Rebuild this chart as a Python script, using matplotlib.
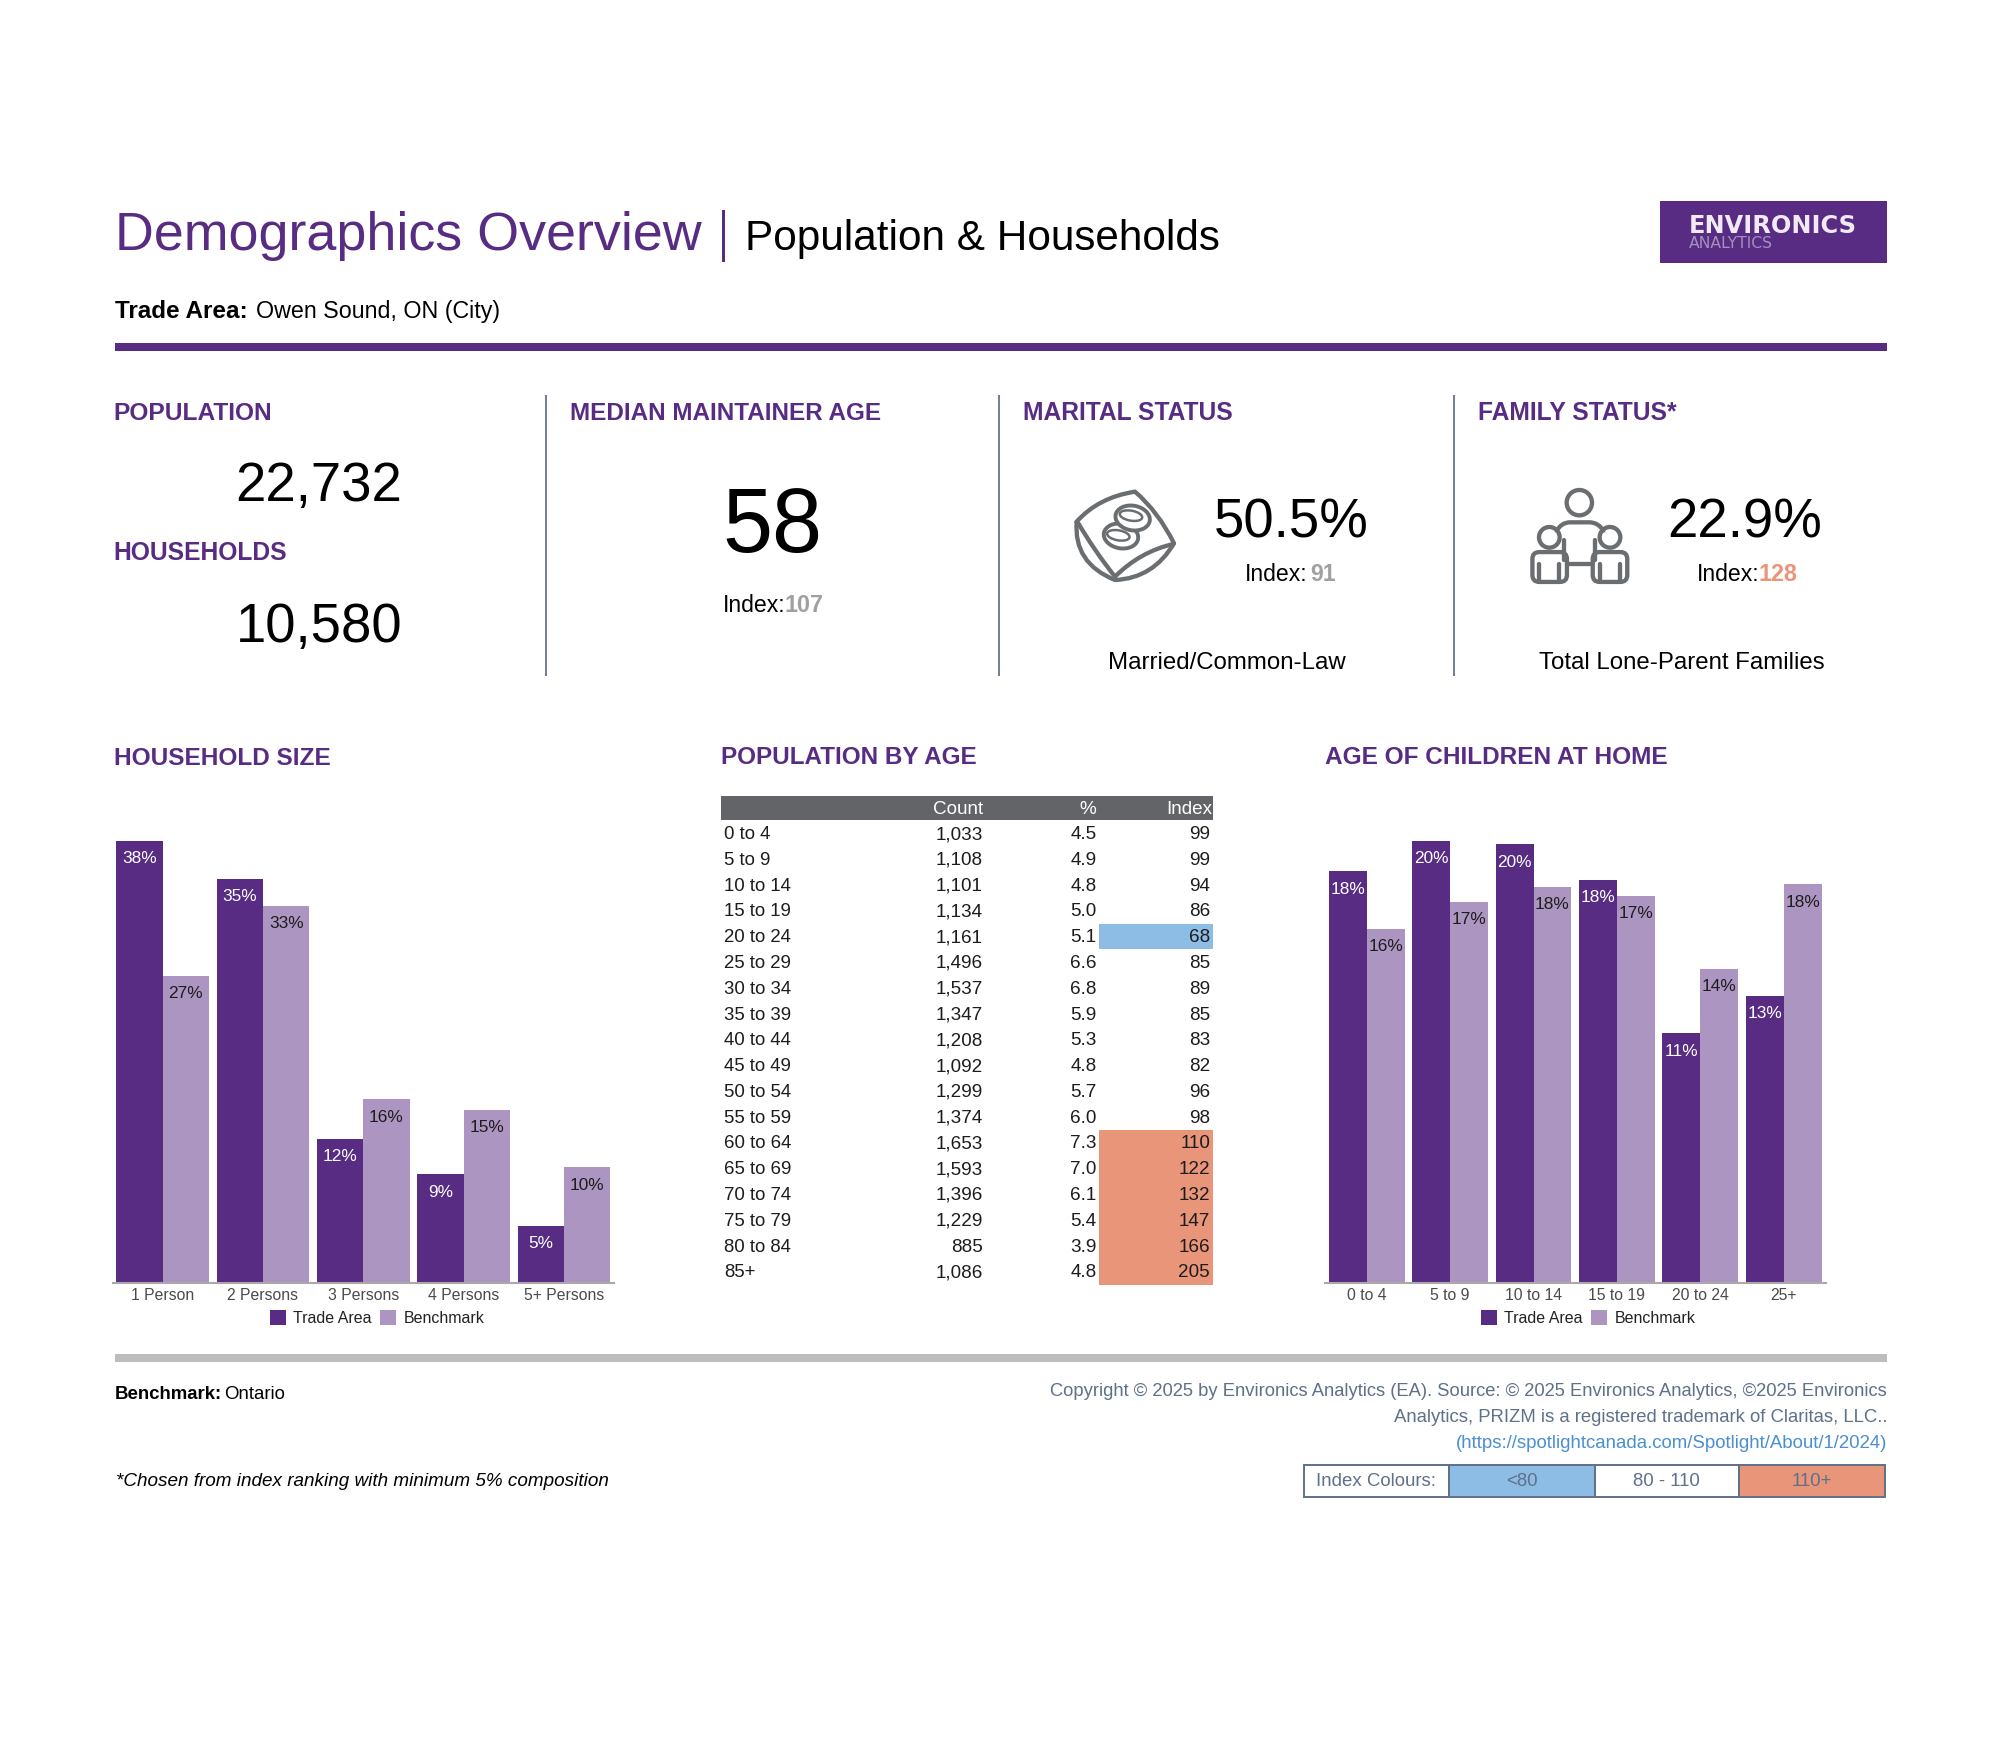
import matplotlib
matplotlib.use('Agg')
import matplotlib.pyplot as plt
from matplotlib.patches import Circle, Ellipse, FancyBboxPatch, PathPatch, Rectangle
from matplotlib.path import Path

plt.rcParams['font.family'] = ['Liberation Sans', 'DejaVu Sans']

W, H = 2000, 1750
PURPLE = '#582C83'
LILAC = '#AD95C1'
SLATE = '#5F7089'
ICON = '#6B6E70'
BLUE = '#8DBDE5'
SALMON = '#E9957A'

# household size chart
hh_labels = ['1 Person', '2 Persons', '3 Persons', '4 Persons', '5+ Persons']
hh_trade = [38.3, 35.0, 12.49, 9.4, 4.9]
hh_bench = [26.6, 32.7, 15.9, 15.0, 10.0]

# children at home chart
kid_labels = ['0 to 4', '5 to 9', '10 to 14', '15 to 19', '20 to 24', '25+']
kid_trade = [18.49, 19.85, 19.7, 18.1, 11.2, 12.9]
kid_bench = [15.9, 17.1, 17.8, 17.4, 14.1, 17.9]

# population by age table
age_labels = ['0 to 4', '5 to 9', '10 to 14', '15 to 19', '20 to 24', '25 to 29', '30 to 34', '35 to 39', '40 to 44',
              '45 to 49', '50 to 54', '55 to 59', '60 to 64', '65 to 69', '70 to 74', '75 to 79', '80 to 84', '85+']
age_count = [1033, 1108, 1101, 1134, 1161, 1496, 1537, 1347, 1208, 1092, 1299, 1374, 1653, 1593, 1396, 1229, 885, 1086]
age_pct = [4.5, 4.9, 4.8, 5.0, 5.1, 6.6, 6.8, 5.9, 5.3, 4.8, 5.7, 6.0, 7.3, 7.0, 6.1, 5.4, 3.9, 4.8]
age_index = [99, 99, 94, 86, 68, 85, 89, 85, 83, 82, 96, 98, 110, 122, 132, 147, 166, 205]


def fs(px):
    # font size in points for an em size in pixels at dpi 100
    return px * 0.72


def axes_px(left, top, right, bottom):
    return fig.add_axes([left / W, 1 - bottom / H, (right - left) / W, (bottom - top) / H])


fig = plt.figure(figsize=(20, 17.5), dpi=100, facecolor='white')

# page overlay in pixel coordinates
pg = fig.add_axes([0, 0, 1, 1], zorder=5)
pg.set_xlim(0, W)
pg.set_ylim(H, 0)
pg.axis('off')
pg.patch.set_alpha(0)


def txt(x, y, s, px, color='black', ha='left', weight='normal', style='normal', family=None):
    return pg.text(x, y, s, fontsize=fs(px), color=color, ha=ha, va='baseline', fontweight=weight, fontstyle=style,
                   family=family if family else plt.rcParams['font.family'])


def rule(x0, x1, y0, y1, color):
    pg.add_patch(Rectangle((x0, y0), x1 - x0, y1 - y0, facecolor=color, edgecolor='none'))


# header
txt(115, 250, 'Demographics Overview', 53.9, PURPLE)
rule(722, 725, 210, 262, PURPLE)
txt(745, 250, 'Population & Households', 42.3)
rule(1659.5, 1887, 201, 263, PURPLE)
txt(1689, 233, 'ENVIRONICS', 24, '#F1EAF5', weight='bold', family='DejaVu Sans')
txt(1689, 248, 'ANALYTICS', 15.6, '#A48FC0', family='DejaVu Sans')
txt(115, 318, 'Trade Area:', 24.3, weight='bold')
txt(256, 318, 'Owen Sound, ON (City)', 23.3)
rule(115, 1887, 343, 351, PURPLE)

# KPI row
for x in [545.5, 998.5, 1453.5]:
    pg.plot([x, x], [395, 676], color='#6F7E93', lw=1.4, solid_capstyle='butt')
txt(113, 420, 'POPULATION', 24.5, PURPLE, weight='bold')
txt(319, 500.5, '22,732', 54.5, ha='center')
txt(113, 560.5, 'HOUSEHOLDS', 24.6, PURPLE, weight='bold')
txt(319, 642, '10,580', 54.5, ha='center')

txt(570, 420, 'MEDIAN MAINTAINER AGE', 24.3, PURPLE, weight='bold')
txt(772.5, 552, '58', 90, ha='center')
txt(723, 612, 'Index:', 23)
txt(784, 612, '107', 23.4, '#A0A0A0', weight='bold')

txt(1023, 420, 'MARITAL STATUS', 24.6, PURPLE, weight='bold')
txt(1291, 537, '50.5%', 54.5, ha='center')
txt(1245, 581, 'Index:', 23)
txt(1310, 581, '91', 23, '#A0A0A0', weight='bold')
txt(1226.5, 669, 'Married/Common-Law', 24, ha='center')

txt(1478, 420, 'FAMILY STATUS*', 24.6, PURPLE, weight='bold')
txt(1744.5, 537, '22.9%', 54.5, ha='center')
txt(1697, 581, 'Index:', 23)
txt(1758, 581, '128', 23.4, SALMON, weight='bold')
txt(1682, 669, 'Total Lone-Parent Families', 24, ha='center')


def curve(points, lw=3.1):
    # points are taken from a 3x crop, first is a move, then control/end pairs
    verts = [points[0]]
    codes = [Path.MOVETO]
    for ctrl, end in zip(points[1::2], points[2::2]):
        verts += [ctrl, end]
        codes += [Path.CURVE3, Path.CURVE3]
    pg.add_patch(PathPatch(Path(verts, codes), facecolor='none', edgecolor=ICON, lw=lw, capstyle='round', joinstyle='round'))


# rings icon
ox, oy = 1040, 460
p = lambda a, b: (ox + a / 3, oy + b / 3)
curve([p(110, 185), p(175, 112), p(285, 95), p(355, 155), p(402, 250), p(340, 355), p(225, 360), p(100, 310), p(110, 185)])
curve([p(115, 190), p(165, 275), p(225, 350), p(300, 275), p(400, 252)])
for cx, cy, in_x, in_y in [(243, 228, 235, 226), (278, 174, 273, 167)]:
    pg.add_patch(Ellipse(p(cx, cy), 104 / 3, 74 / 3, angle=10, facecolor='white', edgecolor=ICON, lw=2.8, zorder=3))
    pg.add_patch(Ellipse(p(in_x, in_y), 68 / 3, 30 / 3, angle=10, facecolor='none', edgecolor=ICON, lw=1.8, zorder=3))

# family icon
ox, oy = 1500, 460
pg.add_patch(Circle(p(238, 128), 38 / 3, facecolor='none', edgecolor=ICON, lw=3.1))
pg.add_patch(Circle(p(148, 232), 31 / 3, facecolor='none', edgecolor=ICON, lw=3.1))
pg.add_patch(Circle(p(330, 232), 31 / 3, facecolor='none', edgecolor=ICON, lw=3.1))
curve([p(170, 212), p(185, 187), p(210, 187), p(240, 187), p(268, 187), p(295, 187), p(310, 212)])
for bx in [97, 278]:
    x0, y0 = p(bx + 8, 284)
    pg.add_patch(FancyBboxPatch((x0, y0), 88 / 3, 74 / 3, boxstyle='round,pad=2.6,rounding_size=7', facecolor='none', edgecolor=ICON, lw=3.1))
for a, b0, b1 in [(118, 312, 362), (178, 312, 362), (300, 312, 362), (360, 312, 362), (193, 240, 300), (285, 240, 300)]:
    pg.plot(*zip(p(a, b0), p(a, b1)), color=ICON, lw=3.1, solid_capstyle='round')
pg.plot(*zip(p(203, 312), p(276, 312)), color=ICON, lw=3.1)


def bar_chart(box, labels, trade, bench, bar_w, legend_x):
    ax = axes_px(*box)
    n = len(labels)
    xs = range(n)
    b1 = ax.bar([x - bar_w / 2 for x in xs], trade, bar_w, color=PURPLE, label='Trade Area')
    b2 = ax.bar([x + bar_w / 2 for x in xs], bench, bar_w, color=LILAC, label='Benchmark')
    for bars, col in [(b1, 'white'), (b2, '#1C1C1C')]:
        for r in bars:
            ax.annotate('%d%%' % round(r.get_height()), (r.get_x() + r.get_width() / 2, r.get_height()), xytext=(0, -12.8),
                        textcoords='offset points', ha='center', va='center', color=col, fontsize=fs(17.2))
    ax.set_xlim(-0.5, n - 0.5)
    ax.set_ylim(0, max(trade))
    for s in ['top', 'left', 'right']:
        ax.spines[s].set_visible(False)
    ax.spines['bottom'].set_color('#A9A9A9')
    ax.spines['bottom'].set_linewidth(1.5)
    ax.set_yticks([])
    ax.set_xticks(list(xs), labels, fontsize=fs(15.8), color='#4A4A4A')
    ax.tick_params(axis='x', length=0, pad=3.6)
    ax.legend(loc='center', bbox_to_anchor=(legend_x / W, 1 - 1318 / H), bbox_transform=fig.transFigure, ncol=2,
              frameon=False, fontsize=fs(16), handlelength=1, handleheight=1, handletextpad=0.47, columnspacing=0.5,
              borderpad=0, borderaxespad=0, labelcolor='#222222')
    return ax


txt(113.5, 765, 'HOUSEHOLD SIZE', 24.4, PURPLE, weight='bold')
bar_chart((112.5, 841, 614, 1282.7), hh_labels, hh_trade, hh_bench, 0.462, 377)

txt(1325, 764, 'AGE OF CHILDREN AT HOME', 24.4, PURPLE, weight='bold')
bar_chart((1325, 841, 1825.5, 1282.7), kid_labels, kid_trade, kid_bench, 0.4545, 1588)

# population table, rows on the y scale and pixels across
txt(721, 764, 'POPULATION BY AGE', 24.3, PURPLE, weight='bold')
tb = axes_px(721, 796, 1213.4, 1284.5)
tb.set_xlim(721, 1213.4)
tb.set_ylim(17.5, -1.451)
tb.axis('off')
tb.barh(-0.985, 492.4, 0.93, left=721, color='#636468')
col_count, col_pct, col_index = 983, 1096.4, 1210
BASE = 0.22  # baseline drop below the row centre
for x, s in [(col_count, 'Count'), (col_pct, '%'), (1212, 'Index')]:
    tb.text(x, -0.98 + BASE, s, color='white', ha='right', va='baseline', fontsize=fs(18.9))
for i, label in enumerate(age_labels):
    v = age_index[i]
    if v < 80:
        tb.barh(i, 114, 1.0, left=1099.4, color=BLUE)
    elif v >= 110:
        tb.barh(i, 114, 1.0, left=1099.4, color=SALMON)
    tb.text(724, i + BASE, label, color='#1C1C1C', ha='left', va='baseline', fontsize=fs(18.7))
    tb.text(col_count, i + BASE, f'{age_count[i]:,}', color='#1C1C1C', ha='right', va='baseline', fontsize=fs(18.9))
    tb.text(col_pct, i + BASE, f'{age_pct[i]:.1f}', color='#1C1C1C', ha='right', va='baseline', fontsize=fs(18.9))
    tb.text(col_index, i + BASE, str(v), color='#1C1C1C', ha='right', va='baseline', fontsize=fs(18.9))

# footer
rule(115, 1887, 1354, 1362, '#BDBDBD')
txt(115, 1399, 'Benchmark:', 18.6, weight='bold')
txt(224, 1399, 'Ontario', 18.6)
txt(116, 1486, '*Chosen from index ranking with minimum 5% composition', 18.9, style='italic')
txt(1887, 1395.5, 'Copyright \u00a9 2025 by Environics Analytics (EA). Source: \u00a9 2025 Environics Analytics, \u00a92025 Environics', 18.4, SLATE, ha='right')
txt(1887, 1421.5, 'Analytics, PRIZM is a registered trademark of Claritas, LLC..', 18.5, SLATE, ha='right')
txt(1887, 1447.5, '(https://spotlightcanada.com/Spotlight/About/1/2024)', 18.65, '#4A90D0', ha='right')

key_edges = [1303.5, 1448.5, 1594.5, 1738.5, 1884.5]
key_texts = ['Index Colours:', '<80', '80 - 110', '110+']
key_fill = ['white', BLUE, 'white', SALMON]
for i, s in enumerate(key_texts):
    pg.add_patch(Rectangle((key_edges[i], 1464.5), key_edges[i + 1] - key_edges[i], 32, facecolor=key_fill[i], edgecolor=SLATE, lw=1.4))
    pg.text((key_edges[i] + key_edges[i + 1]) / 2, 1481, s, color=SLATE, ha='center', va='center', fontsize=fs(18.6))

fig.savefig('out.png', dpi=100)
